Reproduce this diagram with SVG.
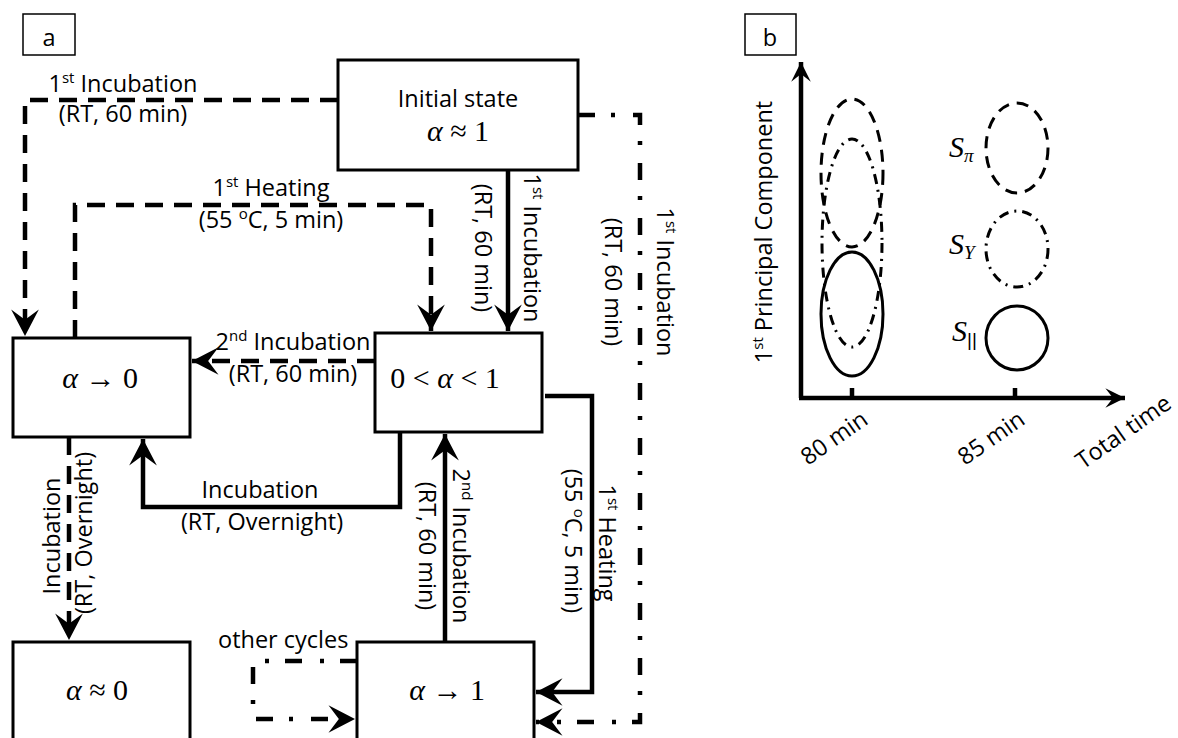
<svg xmlns="http://www.w3.org/2000/svg" width="1178" height="738" viewBox="0 0 1178 738">
<style>
text{font-family:"Open Sans","Noto Sans",sans-serif;font-size:23.5px;fill:#000}
.m{font-family:"Liberation Serif","DejaVu Serif",serif;font-size:30px}
.i{font-style:italic}
.box{fill:#fff;stroke:#000;stroke-width:3}
.lbl{fill:#fff;stroke:#000;stroke-width:1.5}
.c{fill:none;stroke:#000;stroke-width:4.5}
.dsh{stroke-dasharray:18 11}
.dd{stroke-dasharray:17 16 4 18}
.el{fill:none;stroke:#000;stroke-width:3}
.eld{stroke-dasharray:12 8}
.eldd{stroke-dasharray:10 6 2 6}
</style>
<defs>
<marker id="ah" markerUnits="userSpaceOnUse" markerWidth="30" markerHeight="30" viewBox="-24 -13 26 26" refX="0" refY="0" orient="auto">
<path d="M0,0 L-23,-12 L-14,0 L-23,12 Z" fill="#000"/>
</marker>
<marker id="ah2" markerUnits="userSpaceOnUse" markerWidth="24" markerHeight="24" viewBox="-20 -11 22 22" refX="0" refY="0" orient="auto">
<path d="M0,0 L-18,-9 L-11,0 L-18,9 Z" fill="#000"/>
</marker>
</defs>

<g id="label-a">
<rect class="lbl" x="23" y="14" width="52" height="41"/>
<text x="49" y="46" text-anchor="middle" font-size="26">a</text>
</g>

<g id="connectors">
<path class="c dsh" d="M338,100 H25 V336" marker-end="url(#ah)"/>
<path class="c dsh" d="M75,338 V205 H431 V331" marker-end="url(#ah)"/>
<path class="c" d="M508,170 V331" marker-end="url(#ah)"/>
<path class="c dsh" d="M375,361 H192" marker-end="url(#ah)"/>
<path class="c" d="M400,432 V507 H143 V439" marker-end="url(#ah)"/>
<path class="c dsh" d="M69,437 V640" marker-end="url(#ah)"/>
<path class="c" d="M445,642 V434" marker-end="url(#ah)"/>
<path class="c" d="M545,396 H592 V692 H536" marker-end="url(#ah)"/>
<path class="c dd" d="M578,115 H640 V722 H536" marker-end="url(#ah)"/>
<path class="c dd" d="M357,661 H253 V719 H355" marker-end="url(#ah)"/>
</g>

<g id="connector-labels">
<text x="123" y="92" text-anchor="middle">1<tspan font-size="15" dy="-9">st</tspan><tspan dy="9"> Incubation</tspan></text>
<text x="123" y="122" text-anchor="middle">(RT, 60 min)</text>
<text x="271" y="196" text-anchor="middle">1<tspan font-size="15" dy="-9">st</tspan><tspan dy="9"> Heating</tspan></text>
<text x="271" y="228" text-anchor="middle">(55 <tspan font-size="15" dy="-9">o</tspan><tspan dy="9">C, 5 min)</tspan></text>
<text x="293" y="350" text-anchor="middle">2<tspan font-size="15" dy="-9">nd</tspan><tspan dy="9"> Incubation</tspan></text>
<text x="293" y="382" text-anchor="middle">(RT, 60 min)</text>
<text x="260" y="498" text-anchor="middle">Incubation</text>
<text x="262" y="530" text-anchor="middle">(RT, Overnight)</text>
<text transform="translate(524,248) rotate(90)" text-anchor="middle">1<tspan font-size="15" dy="-9">st</tspan><tspan dy="9"> Incubation</tspan></text>
<text transform="translate(475,248) rotate(90)" text-anchor="middle">(RT, 60 min)</text>
<text transform="translate(657,282) rotate(90)" text-anchor="middle">1<tspan font-size="15" dy="-9">st</tspan><tspan dy="9"> Incubation</tspan></text>
<text transform="translate(605,282) rotate(90)" text-anchor="middle">(RT, 60 min)</text>
<text transform="translate(453,546) rotate(90)" text-anchor="middle">2<tspan font-size="15" dy="-9">nd</tspan><tspan dy="9"> Incubation</tspan></text>
<text transform="translate(419,546) rotate(90)" text-anchor="middle">(RT, 60 min)</text>
<text transform="translate(599,543) rotate(90)" text-anchor="middle">1<tspan font-size="15" dy="-9">st</tspan><tspan dy="9"> Heating</tspan></text>
<text transform="translate(565,541) rotate(90)" text-anchor="middle">(55 <tspan font-size="15" dy="-9">o</tspan><tspan dy="9">C, 5 min)</tspan></text>
<text transform="translate(60,536) rotate(-90)" text-anchor="middle">Incubation</text>
<text transform="translate(92,533) rotate(-90)" text-anchor="middle">(RT, Overnight)</text>
<text x="218" y="648">other cycles</text>
</g>

<g id="node-initial">
<rect class="box" x="338" y="60" width="240" height="110"/>
<text x="458" y="107" text-anchor="middle">Initial state</text>
<text class="m" x="458" y="141" text-anchor="middle"><tspan class="i">α</tspan> ≈ 1</text>
</g>
<g id="node-a-to-0">
<rect class="box" x="13" y="338" width="177" height="99"/>
<text class="m" x="100" y="388" text-anchor="middle"><tspan class="i">α</tspan> → 0</text>
</g>
<g id="node-mid">
<rect class="box" x="375" y="333" width="167" height="99"/>
<text class="m" x="445" y="388" text-anchor="middle" font-size="31">0 &lt; <tspan class="i">α</tspan> &lt; 1</text>
</g>
<g id="node-a-approx-0">
<rect class="box" x="13" y="642" width="177" height="110"/>
<text class="m" x="97" y="700" text-anchor="middle"><tspan class="i">α</tspan> ≈ 0</text>
</g>
<g id="node-a-to-1">
<rect class="box" x="357" y="642" width="177" height="110"/>
<text class="m" x="447" y="700" text-anchor="middle"><tspan class="i">α</tspan> → 1</text>
</g>

<g id="label-b">
<rect class="lbl" x="745" y="14" width="51" height="41"/>
<text x="770" y="46" text-anchor="middle" font-size="26">b</text>
</g>
<g id="panel-b">
<path class="c" d="M801,398 V62" marker-end="url(#ah2)"/>
<path class="c" d="M799,398 H1125" marker-end="url(#ah2)"/>
<path class="c" d="M852,388 V398 M1015,388 V398" stroke-width="3"/>
<ellipse class="el eld" cx="852" cy="173" rx="31" ry="74"/>
<ellipse class="el eldd" cx="852" cy="243" rx="30" ry="104"/>
<ellipse class="el" cx="852" cy="314" rx="31" ry="62"/>
<ellipse class="el eld" cx="1017" cy="148" rx="31" ry="45"/>
<ellipse class="el eldd" cx="1017" cy="249" rx="31" ry="38"/>
<ellipse class="el" cx="1017" cy="338" rx="31" ry="32"/>
<text class="m" x="949" y="157" font-size="27"><tspan class="i">S</tspan><tspan class="i" font-size="19" dy="5">π</tspan></text>
<text class="m" x="949" y="254" font-size="27"><tspan class="i">S</tspan><tspan class="i" font-size="19" dy="5">Y</tspan></text>
<text class="m" x="952" y="341" font-size="27"><tspan class="i">S</tspan><tspan font-family="Liberation Sans, sans-serif" font-size="19" dy="5" fill="#000">||</tspan></text>
<text transform="translate(772,232) rotate(-90)" text-anchor="middle">1<tspan font-size="15" dy="-9">st</tspan><tspan dy="9"> Principal Component</tspan></text>
<text transform="translate(808,466) rotate(-35)">80 min</text>
<text transform="translate(965,466) rotate(-35)">85 min</text>
<text transform="translate(1083,470) rotate(-35)">Total time</text>
</g>
</svg>
